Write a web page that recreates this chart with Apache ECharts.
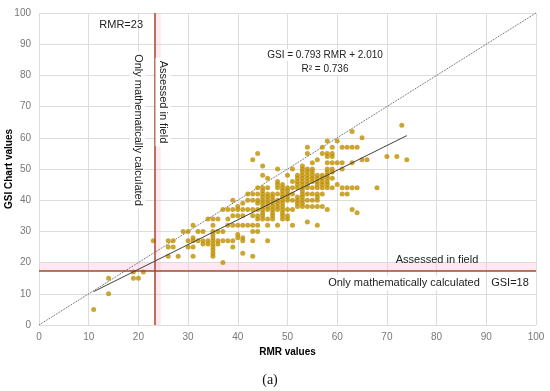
<!DOCTYPE html>
<html>
<head>
<meta charset="utf-8">
<script src="https://cdn.jsdelivr.net/npm/echarts@6/dist/echarts.min.js"></script>
<style>html,body{margin:0;padding:0;background:#fff;}#c{width:550px;height:391px;}</style>
</head>
<body>
<div id="c"></div>
<script>
// RMR / GSI sample pairs
const samplePoints = [
 [11,5],[14,10],[14,15],[19,15],[19,17],[20,15],[21,17],[23,27],
 [26,22],[26,25],[26,27],[27,25],[27,27],[28,22],[29,30],
 [30,25],[30,27],[30,30],[31,22],[31,25],[31,27],[31,28],[31,32],
 [32,27],[32,30],[33,26],[33,27],[33,30],[34,26],[34,27],[34,34],
 [35,22],[35,23],[35,24],[35,25],[35,26],[35,27],[35,28],[35,29],[35,30],[35,32],[35,34],
 [36,26],[36,27],[36,30],[36,34],[37,20],[37,27],[37,30],[37,37],
 [38,27],[38,32],[38,34],[38,37],[39,25],[39,27],[39,32],[39,35],[39,37],[39,40],
 [40,28],[40,29],[40,32],[40,35],[40,37],[40,38],
 [41,23],[41,27],[41,28],[41,32],[41,35],[41,37],[41,39],
 [42,32],[42,37],[42,40],[42,42],
 [43,22],[43,27],[43,30],[43,32],[43,35],[43,37],[43,40],[43,42],[43,53],
 [44,30],[44,32],[44,34],[44,35],[44,37],[44,39],[44,40],[44,42],[44,44],[44,55],
 [45,34],[45,35],[45,36],[45,37],[45,38],[45,39],[45,40],[45,41],[45,42],[45,43],[45,44],[45,48],[45,51],
 [46,27],[46,32],[46,34],[46,37],[46,38],[46,39],[46,40],[46,41],[46,42],[46,44],[46,47],
 [47,34],[47,35],[47,36],[47,37],[47,38],[47,39],[47,40],[47,41],[47,42],
 [48,32],[48,37],[48,38],[48,39],[48,40],[48,42],[48,44],[48,45],[48,46],[48,50],
 [49,34],[49,35],[49,36],[49,37],[49,38],[49,39],[49,40],[49,41],[49,42],[49,43],[49,44],[49,45],
 [50,34],[50,35],[50,37],[50,40],[50,41],[50,42],[50,43],[50,44],[50,48],
 [51,32],[51,37],[51,40],[51,42],[51,44],[51,46],[51,50],
 [52,38],[52,39],[52,40],[52,41],[52,44],[52,45],[52,46],[52,47],[52,48],
 [53,38],[53,39],[53,40],[53,41],[53,42],[53,43],[53,44],[53,45],[53,46],[53,47],[53,48],[53,49],[53,50],[53,51],
 [54,33],[54,38],[54,40],[54,42],[54,44],[54,45],[54,46],[54,47],[54,48],[54,49],[54,50],[54,55],[54,57],
 [55,38],[55,40],[55,42],[55,44],[55,46],[55,47],[55,48],[55,49],[55,50],[55,52],
 [56,32],[56,38],[56,40],[56,41],[56,42],[56,44],[56,45],[56,46],[56,47],[56,48],[56,53],
 [57,38],[57,42],[57,44],[57,45],[57,46],[57,47],[57,48],[57,55],[57,57],
 [58,37],[58,44],[58,45],[58,46],[58,47],[58,48],[58,49],[58,50],[58,52],[58,54],[58,55],[58,59],
 [59,44],[59,47],[59,49],[59,50],[59,52],[59,54],[59,55],[59,57],
 [60,45],[60,52],[60,59],[61,42],[61,44],[61,50],[61,52],[61,57],
 [62,42],[62,44],[62,57],[63,37],[63,44],[63,52],[63,57],[63,62],
 [64,36],[64,44],[64,57],[65,53],[65,60],[66,53],[68,44],[70,54],[72,54],[73,64],[74,53]
];
// trend line end points (GSI = 0.793 RMR + 2.010)
const trendLine = [[11,10.7],[74,60.7]];
// 1:1 reference line
const identityLine = [[0,0],[100,100]];
const rmrLimit = 23.3;
const gsiLimit = 17.3;
const axisTicks = [0,10,20,30,40,50,60,70,80,90,100];

const chart = echarts.init(document.getElementById('c'), null, {renderer:'canvas'});
const txt = {fontFamily:'Liberation Sans', fontSize:11, fill:'#222'};
chart.setOption({
  animation:false,
  grid:{left:39, right:14, top:13, bottom:66, containLabel:false, outerBoundsMode:'none'},
  xAxis:{type:'value', min:0, max:100, interval:10,
    name:'RMR values', nameLocation:'middle', nameGap:21,
    nameTextStyle:{fontFamily:'Liberation Sans', fontWeight:'bold', fontSize:10, color:'#000'},
    axisLine:{show:false}, axisTick:{show:false},
    axisLabel:{fontFamily:'Liberation Sans', fontSize:10, color:'#777', margin:7},
    splitLine:{lineStyle:{color:'#dcdcdc', width:1}}},
  yAxis:{type:'value', min:0, max:100, interval:10,
    axisLine:{show:false}, axisTick:{show:false},
    axisLabel:{fontFamily:'Liberation Sans', fontSize:10, color:'#777', margin:8},
    splitLine:{lineStyle:{color:'#dcdcdc', width:1}}},
  series:[
    {type:'line', data:identityLine, symbol:'none', silent:true,
     lineStyle:{color:'#555', width:1, type:'dotted'}, z:3,
     markArea:{silent:true, itemStyle:{color:'rgba(255,190,215,0.35)'},
       data:[[{xAxis:rmrLimit},{xAxis:rmrLimit+1.2}],
             [{yAxis:gsiLimit},{yAxis:gsiLimit+2.6}]]}},
    {type:'scatter', data:samplePoints, symbolSize:5,
     itemStyle:{color:'#BF9000'}, z:4},
    {type:'line', data:trendLine, symbol:'none', silent:true,
     lineStyle:{color:'#404040', width:1}, z:5,
     markLine:{silent:true, symbol:'none', label:{show:false},
       lineStyle:{color:'#A34A28', width:1.5, type:'solid'},
       data:[{xAxis:rmrLimit},{yAxis:gsiLimit}]}}
  ],
  graphic:[
    {type:'text', x:9, y:169, rotation:Math.PI/2,
     style:{text:'GSI Chart values', fontFamily:'Liberation Sans', fontWeight:'bold', fontSize:10, fill:'#000', textAlign:'center', textVerticalAlign:'middle'}, z:10},
    {type:'text', x:143, y:25, style:Object.assign({}, txt, {text:'RMR=23', textAlign:'right', textVerticalAlign:'middle'}), z:10},
    {type:'text', x:138, y:130, rotation:-Math.PI/2,
     style:Object.assign({}, txt, {text:'Only mathematically calculated', textAlign:'center', textVerticalAlign:'middle', backgroundColor:'#fff', padding:[2,3]}), z:10},
    {type:'text', x:163, y:102, rotation:-Math.PI/2,
     style:Object.assign({}, txt, {text:'Assessed in field', textAlign:'center', textVerticalAlign:'middle', backgroundColor:'#fff', padding:[2,3]}), z:10},
    {type:'text', x:325, y:55,
     style:Object.assign({}, txt, {text:'GSI = 0.793 RMR + 2.010', fontSize:10, textAlign:'center', textVerticalAlign:'middle', backgroundColor:'#fff', padding:[1,2]}), z:10},
    {type:'text', x:325, y:69,
     style:Object.assign({}, txt, {text:'R² = 0.736', fontSize:10, textAlign:'center', textVerticalAlign:'middle', backgroundColor:'#fff', padding:[1,2]}), z:10},
    {type:'text', x:437, y:260,
     style:Object.assign({}, txt, {text:'Assessed in field', textAlign:'center', textVerticalAlign:'middle'}), z:10},
    {type:'text', x:404, y:283,
     style:Object.assign({}, txt, {text:'Only mathematically calculated', textAlign:'center', textVerticalAlign:'middle', backgroundColor:'#fff', padding:[2,3]}), z:10},
    {type:'text', x:510, y:283,
     style:Object.assign({}, txt, {text:'GSI=18', textAlign:'center', textVerticalAlign:'middle', backgroundColor:'#fff', padding:[2,3]}), z:10},
    {type:'text', x:270, y:380,
     style:{text:'(a)', fontFamily:'Liberation Serif', fontSize:14, fill:'#111', textAlign:'center', textVerticalAlign:'middle'}, z:10}
  ]
});
</script>
</body>
</html>
